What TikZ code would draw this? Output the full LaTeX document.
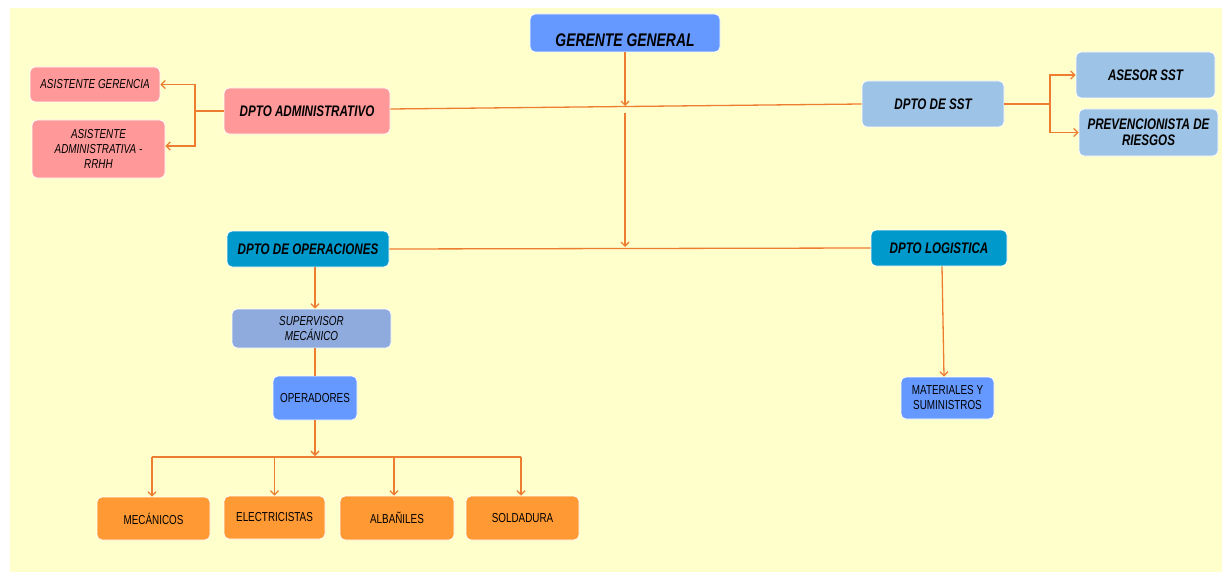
\documentclass[tikz,border=0pt]{standalone}
\usepackage{fontspec}
\setmainfont[FakeStretch=0.76]{Liberation Sans}
\usetikzlibrary{arrows.meta}
\definecolor{bg}{HTML}{FFFFCC}
\definecolor{ln}{HTML}{ED7D31}
\definecolor{pinkc}{HTML}{FF9999}
\definecolor{bluec}{HTML}{6699FF}
\definecolor{lightb}{HTML}{9DC3E6}
\definecolor{tealc}{HTML}{0099CC}
\definecolor{supc}{HTML}{8FAADC}
\definecolor{orc}{HTML}{FF9933}
\begin{document}
\begin{tikzpicture}[x=1pt,y=-1pt,
  box/.style={draw=white, line width=0.8pt, rounded corners=5pt, align=center, inner sep=0pt,
    font=\fontsize{13}{15}\selectfont},
  bi/.style={font=\fontsize{15.3}{16}\selectfont\bfseries\itshape},
  it/.style={font=\fontsize{13}{15}\selectfont\itshape},
  conn/.style={draw=ln, line width=1.3pt},
  arr/.style={conn, -{Straight Barb[length=4pt,width=8pt]}}]
\useasboundingbox (0,0) rectangle (1225,575);
\fill[white] (0,0) rectangle (1225,575);
\fill[bg] (10,8) rectangle (1222,572);

% nodes
\node[box, fill=bluec, minimum width=190, minimum height=38,
  font=\fontsize{18.3}{20}\selectfont\bfseries\itshape] (gg) at (625,33)
  {\raisebox{-7pt}[13pt][0pt]{GERENTE GENERAL}};
\node[box, fill=pinkc, bi, minimum width=166, minimum height=46] (adm) at (307,111) {DPTO ADMINISTRATIVO};
\node[box, fill=pinkc, it, minimum width=130, minimum height=35] (ag) at (95,84.5) {ASISTENTE GERENCIA};
\node[box, fill=pinkc, it, minimum width=133, minimum height=58] (aa) at (98.5,149) {ASISTENTE\\ADMINISTRATIVA -\\RRHH};
\node[box, fill=lightb, bi, minimum width=142, minimum height=46] (sst) at (933,104) {DPTO DE SST};
\node[box, fill=lightb, bi, minimum width=139, minimum height=46] (ase) at (1145.5,75) {ASESOR SST};
\node[box, fill=lightb, bi, minimum width=139, minimum height=47] (prev) at (1148.5,132.5) {PREVENCIONISTA DE\\RIESGOS};
\node[box, fill=tealc, bi, minimum width=162, minimum height=36] (ope) at (308,249) {DPTO DE OPERACIONES};
\node[box, fill=tealc, bi, minimum width=136, minimum height=36] (log) at (939,248) {DPTO LOGISTICA};
\node[box, fill=supc, it, minimum width=159, minimum height=39] (sup) at (311.5,328.5) {SUPERVISOR\\MECÁNICO};
\node[box, fill=bluec, minimum width=84, minimum height=44] (opr) at (315,398) {OPERADORES};
\node[box, fill=bluec, minimum width=93, minimum height=42] (mat) at (947.5,398) {MATERIALES Y\\SUMINISTROS};
\node[box, fill=orc, minimum width=113, minimum height=43] (mec) at (153.5,518.5) {MECÁNICOS};
\node[box, fill=orc, minimum width=101, minimum height=43] (ele) at (274.5,517.5) {ELECTRICISTAS};
\node[box, fill=orc, minimum width=114, minimum height=44] (alb) at (397,518) {ALBAÑILES};
\node[box, fill=orc, minimum width=113, minimum height=44] (sol) at (522.5,518) {SOLDADURA};

% junction coordinates
\coordinate (j1) at (625,106);
\coordinate (j2) at (625,113);
\coordinate (j3) at (625,247);
\coordinate (ab) at (195,111);
\coordinate (sb) at (1050,104);
\coordinate (ob) at (315,456);
\coordinate (hl) at (152,457);
\coordinate (hr) at (521,457);

% connectors
\draw[arr] (gg.south) -- (j1);
\draw[conn] ([yshift=2pt]adm.east) -- (sst.west);
\draw[arr] (j2) -- (j3);
\draw[conn] (ope.east) -- (log.west);

\draw[conn] (adm.west) -- (ab);
\draw[arr] (ab) |- (ag.east);
\draw[arr] (ab) |- ([yshift=3pt]aa.east);

\draw[conn] (sst.east) -- (sb);
\draw[arr] (sb) |- (ase.west);
\draw[arr] (sb) |- (prev.west);

\draw[arr] (ope.south -| opr.center) -- (sup.north -| opr.center);
\draw[conn] (sup.south -| opr.center) -- (opr.north);
\draw[arr] (opr.south) -- (ob);
\draw[conn] (hl) -- (hr);
\draw[arr] (hl) -- (hl |- mec.north);
\draw[arr] (ele.north |- hl) -- (ele.north);
\draw[arr] ([xshift=-3pt]alb.north |- hl) -- ([xshift=-3pt]alb.north);
\draw[arr] (hr) -- (hr |- sol.north);

\draw[arr] ([xshift=3pt]log.south) -- ([xshift=-3.5pt]mat.north);
\end{tikzpicture}
\end{document}
